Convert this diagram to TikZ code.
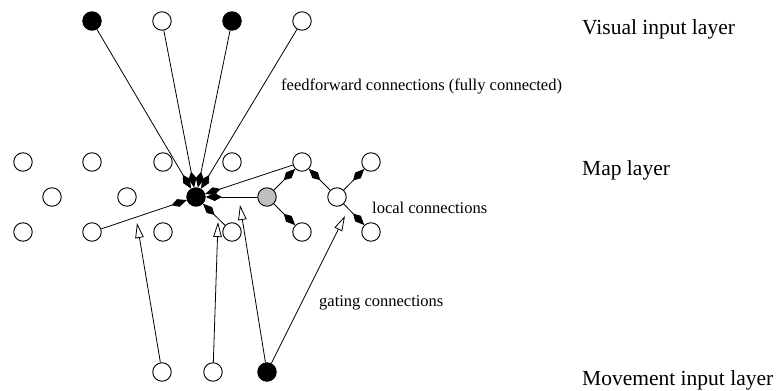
\documentclass[tikz,border=0pt]{standalone}
\usepackage{fontspec}
\setmainfont{Liberation Serif}
\usetikzlibrary{arrows.meta}
\begin{document}
\begin{tikzpicture}[x=1pt,y=-1pt,
 unit/.style={circle,draw,line width=0.9pt,minimum size=18.5pt,inner sep=0pt,fill=white},
 on/.style={unit,fill=black},
 mid/.style={unit,fill=black!25},
 conn/.style={line width=0.8pt},
 loc/.style={conn,-{Kite[length=16pt,width=8pt,inset=7pt]}},
 gate/.style={conn,-{Triangle[open,length=15pt,width=8.5pt,line width=0.8pt]}},
 lbl/.style={anchor=base west,inner sep=0pt,font=\fontsize{21.5}{24}\selectfont},
 ann/.style={anchor=base west,inner sep=0pt,font=\fontsize{16.5}{19}\selectfont}]
\useasboundingbox (0,0) rectangle (777,391);
% visual input layer
\node[on]   (v1) at (92,21) {};
\node[unit] (v2) at (162,21) {};
\node[on]   (v3) at (232,21) {};
\node[unit] (v4) at (302,21) {};
% map layer
\node[unit] (m11) at (23,162) {};
\node[unit] (m12) at (92,162) {};
\node[unit] (m13) at (163,162) {};
\node[unit] (m14) at (232,162) {};
\node[unit] (m15) at (302,162) {};
\node[unit] (m16) at (371,162) {};
\node[unit] (m21) at (52,197) {};
\node[unit] (m22) at (127,197) {};
\node[on]   (c)   at (196,197) {};
\node[mid]  (g)   at (267,197) {};
\node[unit] (w)   at (337,197) {};
\node[unit] (m31) at (23,232) {};
\node[unit] (m32) at (92,232) {};
\node[unit] (m33) at (163,232) {};
\node[unit] (m34) at (232,232) {};
\node[unit] (m35) at (302,232) {};
\node[unit] (m36) at (371,232) {};
% movement input layer
\node[unit] (b1) at (162,372) {};
\node[unit] (b2) at (213,372) {};
\node[on]   (b3) at (267,372) {};
% gating targets
\coordinate (t1) at (137,223);
\coordinate (t2) at (218,222);
\coordinate (t3) at (240,205);
\coordinate (t4) at (345,216);
% feedforward
\foreach \v in {v1,v2,v3,v4} \draw[loc] (\v) -- (c);
% local
\draw[loc] (m15) -- (c);
\draw[loc] (g) -- (c);
\draw[loc] (m32) -- (c);
\draw[loc] (m34) -- (c);
\draw[loc] (g) -- (m15);
\draw[loc] (g) -- (m35);
\draw[loc] (w) -- (m15);
\draw[loc] (w) -- (m16);
\draw[loc] (w) -- (m36);
% gating
\draw[gate] (b1) -- (t1);
\draw[gate] (b2) -- (t2);
\draw[gate] (b3) -- (t3);
\draw[gate] (b3) -- (t4);
% labels
\node[lbl] (l1) at (582,34) {Visual input layer};
\node[lbl] (l2) at (582,175) {Map layer};
\node[lbl] (l3) at (582,385) {Movement input layer};
\node[ann] (a1) at (281,90) {feedforward connections (fully connected)};
\node[ann] (a2) at (372,213) {local connections};
\node[ann] (a3) at (319,306) {gating connections};
\end{tikzpicture}
\end{document}
